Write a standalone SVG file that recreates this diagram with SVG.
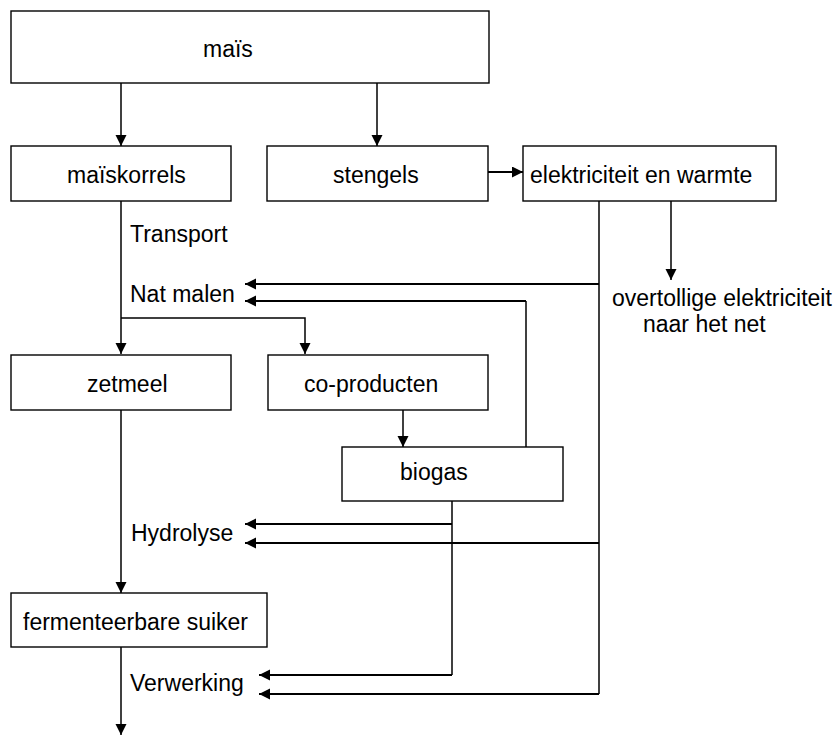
<svg xmlns="http://www.w3.org/2000/svg" width="840" height="735" viewBox="0 0 840 735">
<style>
.box{fill:#fff;stroke:#000;stroke-width:1.4}
.t{font-family:"Liberation Sans",Arial,sans-serif;font-size:23px;fill:#000}
.c{fill:none;stroke:#000;stroke-width:1.5}
.h{fill:none;stroke:#000;stroke-width:2.2}
</style>
<defs>
<marker id="ah" markerUnits="userSpaceOnUse" markerWidth="12" markerHeight="12" refX="11" refY="5.5" orient="auto">
<path d="M0,0 L11,5.5 L0,11 z" fill="#000"/>
</marker>
</defs>
<rect width="840" height="735" fill="#fff"/>
<g id="connectors">
<path class="c" d="M121,83 V146" marker-end="url(#ah)"/>
<path class="c" d="M377,83 V146" marker-end="url(#ah)"/>
<path class="h" d="M488,172 H523" marker-end="url(#ah)"/>
<path class="c" d="M671,201 V280" marker-end="url(#ah)"/>
<path class="c" d="M121,201 V354" marker-end="url(#ah)"/>
<path class="c" d="M121,318 H305 V354" marker-end="url(#ah)"/>
<path class="c" d="M599,201 V694"/>
<path class="h" d="M599,284 H245" marker-end="url(#ah)"/>
<path class="h" d="M599,543 H245" marker-end="url(#ah)"/>
<path class="h" d="M599,694 H259" marker-end="url(#ah)"/>
<path class="c" d="M526,447 V301"/>
<path class="h" d="M526,301 H245" marker-end="url(#ah)"/>
<path class="c" d="M403,410 V447" marker-end="url(#ah)"/>
<path class="c" d="M452,501 V675"/>
<path class="h" d="M452,524 H245" marker-end="url(#ah)"/>
<path class="h" d="M452,675 H259" marker-end="url(#ah)"/>
<path class="c" d="M121,410 V593" marker-end="url(#ah)"/>
<path class="c" d="M121,647 V735" marker-end="url(#ah)"/>
</g>
<g id="mais"><rect class="box" x="11" y="11" width="478" height="72"/><text class="t" x="203" y="57">maïs</text></g>
<g id="maiskorrels"><rect class="box" x="11" y="146" width="220" height="55"/><text class="t" x="67" y="183">maïskorrels</text></g>
<g id="stengels"><rect class="box" x="267" y="146" width="221" height="55"/><text class="t" x="333" y="183">stengels</text></g>
<g id="elektriciteit"><rect class="box" x="523" y="146" width="253" height="55"/><text class="t" x="530" y="183">elektriciteit en warmte</text></g>
<g id="overtollige"><text class="t" x="612" y="306">overtollige elektriciteit</text><text class="t" x="643" y="332">naar het net</text></g>
<g id="transport"><text class="t" x="130" y="242">Transport</text></g>
<g id="natmalen"><text class="t" x="130" y="302">Nat malen</text></g>
<g id="zetmeel"><rect class="box" x="11" y="355" width="220" height="55"/><text class="t" x="87" y="392">zetmeel</text></g>
<g id="coproducten"><rect class="box" x="268" y="355" width="220" height="55"/><text class="t" x="304" y="392">co-producten</text></g>
<g id="biogas"><rect class="box" x="342" y="447" width="221" height="54"/><text class="t" x="400" y="480">biogas</text></g>
<g id="hydrolyse"><text class="t" x="131" y="541">Hydrolyse</text></g>
<g id="fermenteerbare"><rect class="box" x="11" y="593" width="256" height="54"/><text class="t" x="23" y="630">fermenteerbare suiker</text></g>
<g id="verwerking"><text class="t" x="130" y="691">Verwerking</text></g>
</svg>
